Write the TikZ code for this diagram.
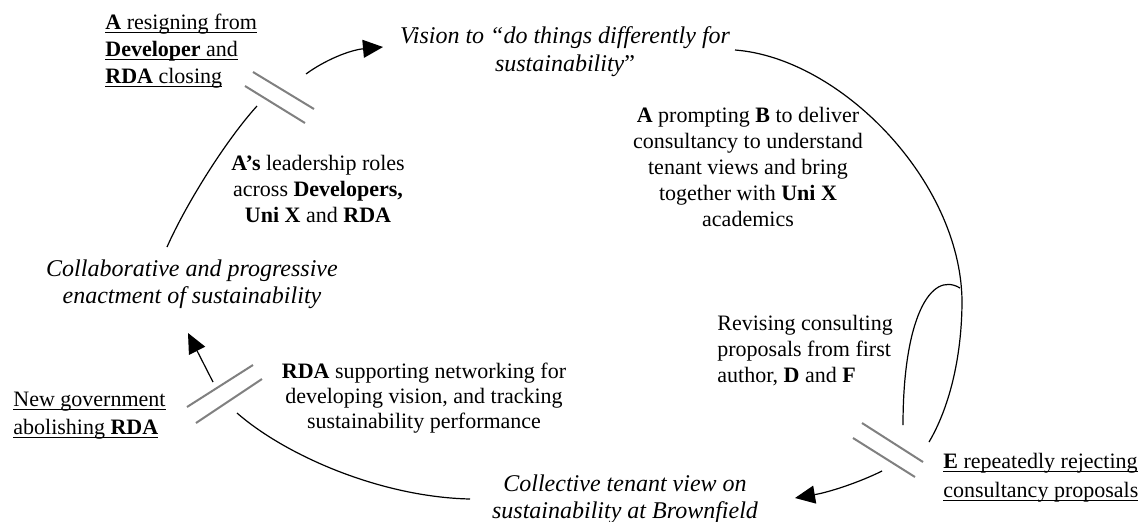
\documentclass[tikz,border=0pt]{standalone}
\usepackage{fontspec}
\setmainfont{Liberation Serif}
\usepackage{tikz}
\usetikzlibrary{arrows.meta}
\usetikzlibrary{calc}
\usetikzlibrary{positioning}

\newcommand{\undl}[1]{\underline{\smash{#1}}\vphantom{#1}}

\begin{document}
\begin{tikzpicture}[
	x=0.5pt, y=-0.5pt,
  > = {Triangle[length=10pt,width=9pt]},
  txt/.style = {inner sep=0pt, font=\fontsize{11}{13}\selectfont},
  itxt/.style = {inner sep=0pt, font=\fontsize{12}{14}\selectfont\itshape},
  brk/.style = {draw=black!50, line width=1pt},
  flow/.style = {draw, line width=0.6pt}
  ]
	\useasboundingbox (0,0) rectangle (1139,521);

	\node[txt, anchor=north west, align=left, font=\fontsize{11}{13.5}\selectfont] (resign) at (105,14)
		{\undl{\textbf{A} resigning from}\\ \undl{\textbf{Developer} and}\\ \undl{\textbf{RDA} closing}};
	\node[itxt, anchor=north, align=center] (vision) at (565,26)
		{Vision to “do things differently for\\ sustainability{\upshape ”}};
	\node[txt, anchor=north, align=center] (prompt) at (748,107)
		{\textbf{A} prompting \textbf{B} to deliver\\ consultancy to understand\\ tenant views and bring\\ together with \textbf{Uni X}\\ academics};
	\node[txt, anchor=north, align=center] (leader) at (318,155)
		{\textbf{A’s} leadership roles\\ across \textbf{Developers,}\\ \textbf{Uni X} and \textbf{RDA}};
	\node[itxt, anchor=north, align=center, font=\fontsize{12}{13.5}\selectfont\itshape] (collab) at (192,259)
		{Collaborative and progressive\\ enactment of sustainability};
	\node[txt, anchor=north west, align=left] (revise) at (717,315)
		{Revising consulting\\ proposals from first\\ author, \textbf{D} and \textbf{F}};
	\node[txt, anchor=north, align=center, font=\fontsize{11}{12.5}\selectfont] (rdasup) at (424,363)
		{\textbf{RDA} supporting networking for\\ developing vision, and tracking\\ sustainability performance};
	\node[txt, anchor=north west, align=left, font=\fontsize{11}{14}\selectfont] (newgov) at (13,392)
		{\undl{New government}\\ \undl{abolishing \textbf{RDA}}};
	\node[itxt, anchor=north, align=center, font=\fontsize{12}{13.5}\selectfont\itshape] (collect) at (625,474)
		{Collective tenant view on\\ sustainability at Brownfield};
	\node[txt, anchor=north west, align=left, font=\fontsize{11}{14.5}\selectfont] (reject) at (943,453)
		{\undl{\textbf{E} repeatedly rejecting}\\ \undl{consultancy proposals}};

	\coordinate (@1) at (167,247);
	\coordinate (@2) at (257,106);
	\coordinate (@3) at (306,74);
	\coordinate (@4) at (383,47);
	\coordinate (@5) at (735,50);
	\coordinate (@6) at (962,300);
	\coordinate (@7) at (929,442);
	\coordinate (@8) at (903,425);
	\coordinate (@9) at (960,288);
	\coordinate (@10) at (882,471);
	\coordinate (@11) at (795,498);
	\coordinate (@12) at (470,499);
	\coordinate (@13) at (237,413);
	\coordinate (@14) at (213,382);
	\coordinate (@15) at (188,333);

	\draw[flow] (@1) .. controls (187,202) and (227,139) .. (@2);
	\draw[flow,->] (@3) .. controls (325,60) and (350,50) .. (@4);
	\draw[flow] (@5) .. controls (840,58) and (960,180) .. (@6)
		.. controls (962,360) and (948,410) .. (@7);
	\draw[flow] (@8) .. controls (903,320) and (930,270) .. (@9);
	\draw[flow,->] (@10) .. controls (860,482) and (830,492) .. (@11);
	\draw[flow] (@12) .. controls (380,497) and (285,455) .. (@13);
	\draw[flow,->] (@14) to (@15);

	\draw[brk] (253,72) -- (314,109);
	\draw[brk] (245,86) -- (305,123);
	\draw[brk] (187,407) -- (253,365);
	\draw[brk] (196,423) -- (262,379);
	\draw[brk] (862,423) -- (923,462);
	\draw[brk] (853,438) -- (915,477);

\end{tikzpicture}
\end{document}
